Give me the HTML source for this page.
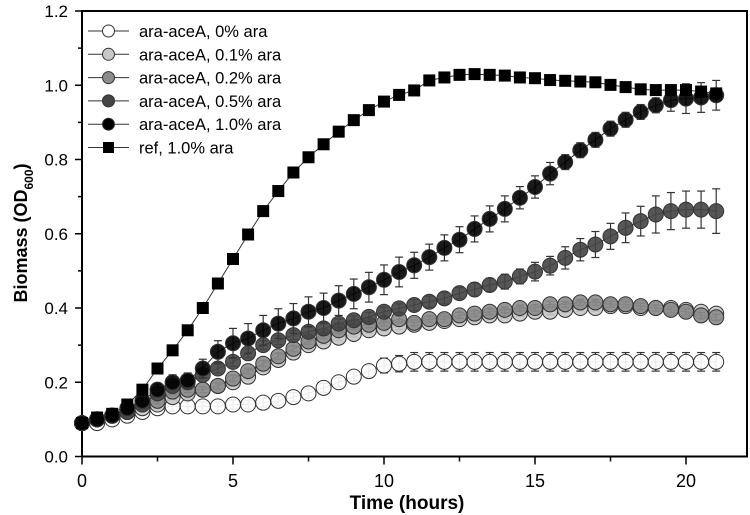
<!DOCTYPE html>
<html><head><meta charset="utf-8"><style>
html,body{margin:0;padding:0;background:#fff;}
svg{display:block;font-family:"Liberation Sans",Arial,sans-serif;}
</style></head><body>
<svg id="chart" width="750" height="515"></svg>
<script>
const times = [0,0.5,1,1.5,2,2.5,3,3.5,4,4.5,5,5.5,6,6.5,7,7.5,8,8.5,9,9.5,10,10.5,11,11.5,12,12.5,13,13.5,14,14.5,15,15.5,16,16.5,17,17.5,18,18.5,19,19.5,20,20.5,21];
const s0 = [0.09,0.09,0.10,0.11,0.12,0.13,0.135,0.135,0.135,0.135,0.14,0.14,0.145,0.15,0.16,0.17,0.185,0.20,0.215,0.23,0.245,0.25,0.255,0.255,0.255,0.255,0.255,0.255,0.255,0.255,0.255,0.255,0.255,0.255,0.255,0.255,0.255,0.255,0.255,0.255,0.255,0.255,0.255];
const s1 = [0.09,0.10,0.11,0.12,0.13,0.14,0.16,0.17,0.18,0.19,0.20,0.215,0.24,0.26,0.28,0.30,0.31,0.32,0.33,0.34,0.345,0.35,0.355,0.36,0.365,0.37,0.375,0.38,0.38,0.385,0.39,0.39,0.395,0.40,0.40,0.405,0.405,0.40,0.40,0.40,0.395,0.39,0.385];
const s2 = [0.09,0.10,0.11,0.12,0.14,0.15,0.175,0.18,0.18,0.19,0.21,0.23,0.25,0.27,0.29,0.31,0.325,0.34,0.35,0.355,0.36,0.37,0.36,0.37,0.37,0.38,0.385,0.39,0.395,0.40,0.40,0.41,0.41,0.415,0.415,0.41,0.41,0.405,0.40,0.395,0.39,0.38,0.375];
const s3 = [0.09,0.10,0.11,0.12,0.14,0.17,0.19,0.20,0.22,0.237,0.255,0.278,0.30,0.313,0.327,0.336,0.345,0.358,0.367,0.376,0.39,0.399,0.408,0.417,0.426,0.44,0.45,0.462,0.471,0.485,0.498,0.514,0.535,0.557,0.571,0.593,0.616,0.634,0.652,0.661,0.665,0.665,0.661];
const s4 = [0.09,0.10,0.11,0.13,0.15,0.18,0.20,0.205,0.237,0.282,0.305,0.318,0.34,0.358,0.372,0.39,0.40,0.42,0.438,0.456,0.476,0.497,0.515,0.537,0.562,0.584,0.613,0.64,0.667,0.697,0.726,0.762,0.793,0.825,0.853,0.883,0.907,0.928,0.946,0.96,0.964,0.967,0.973];
const sRef = [0.09,0.105,0.115,0.14,0.18,0.237,0.286,0.34,0.40,0.466,0.532,0.598,0.661,0.715,0.765,0.806,0.841,0.875,0.906,0.933,0.956,0.974,0.986,1.013,1.021,1.028,1.03,1.028,1.026,1.021,1.019,1.014,1.012,1.01,1.008,1.001,0.995,0.989,0.987,0.987,0.987,0.983,0.978];
const err0 = [0.005,0.005,0.005,0.01,0.01,0.01,0.012,0.012,0.012,0.012,0.012,0.012,0.012,0.012,0.012,0.012,0.012,0.012,0.012,0.015,0.02,0.022,0.025,0.025,0.025,0.025,0.025,0.025,0.025,0.025,0.025,0.025,0.025,0.025,0.025,0.025,0.025,0.025,0.025,0.025,0.025,0.025,0.025];
const err3 = [0.005,0.005,0.01,0.01,0.01,0.01,0.01,0.01,0.01,0.012,0.012,0.012,0.012,0.012,0.012,0.012,0.012,0.012,0.012,0.012,0.012,0.012,0.015,0.015,0.015,0.015,0.018,0.018,0.02,0.02,0.025,0.025,0.03,0.03,0.035,0.035,0.04,0.04,0.05,0.05,0.05,0.05,0.06];
const err4 = [0.005,0.01,0.01,0.01,0.01,0.015,0.02,0.02,0.025,0.03,0.04,0.04,0.04,0.04,0.04,0.04,0.04,0.04,0.04,0.04,0.04,0.04,0.035,0.035,0.035,0.035,0.035,0.035,0.035,0.03,0.03,0.03,0.02,0.02,0.02,0.02,0.02,0.02,0.02,0.03,0.04,0.04,0.04];
const xTicks = ["0","5","10","15","20"];
const yTicks = ["0.0","0.2","0.4","0.6","0.8","1.0","1.2"];

const NS="http://www.w3.org/2000/svg";
const svg=document.getElementById('chart');
const L=82,R=747,T=11,B=456.5;
const X=t=>L+t*30.2;
const Y=v=>B-v*(B-T)/1.2;
function el(tag,attrs,parent){const e=document.createElementNS(NS,tag);for(const k in attrs)e.setAttribute(k,attrs[k]);(parent||svg).appendChild(e);return e;}

const frame=el('rect',{x:L,y:T,width:R-L,height:B-T,fill:'none',stroke:'#000','stroke-width':2});


for(let i=0;i<=8;i++){const t=i*2.5;const x=X(t);const major=i%2===0;
 const tk=el('line',{x1:x,x2:x,y1:B,y2:B+(major?8:5),stroke:'#000','stroke-width':1.5});
 
 
 if(major){const lb=el('text',{x:x,y:487,'text-anchor':'middle','font-size':18});lb.textContent=xTicks[i/2];
 
 }}
for(let i=0;i<=12;i++){const v=i*0.1;const y=Y(v);const major=i%2===0;
 const tk=el('line',{x1:L,x2:L-(major?7:4),y1:y,y2:y,stroke:'#000','stroke-width':1.5});
 
 
 if(major){const lb=el('text',{x:L-14,y:y+6,'text-anchor':'end','font-size':17});lb.textContent=yTicks[i/2];
 
 }}
const xt=el('text',{x:407,y:509,'text-anchor':'middle','font-size':19,'font-weight':'bold'});xt.textContent='Time (hours)';


const yt=el('text',{transform:'translate(27,233) rotate(-90)','text-anchor':'middle','font-size':18,'font-weight':'bold'});
yt.innerHTML='Biomass (OD<tspan font-size="12" dy="6">600</tspan><tspan dy="-6">)</tspan>';



const series=[
 {d:s0,e:err0,fill:'#fff',name:'series-0pct',sq:false},
 {d:s1,e:null,fill:'#c8c8c8',name:'series-0-1pct',sq:false},
 {d:s2,e:null,fill:'#8c8c8c',name:'series-0-2pct',sq:false},
 {d:s3,e:err3,fill:'#444',name:'series-0-5pct',sq:false},
 {d:s4,e:err4,fill:'#000',name:'series-1-0pct',sq:false},
 {d:sRef,e:null,fill:'#000',name:'series-ref',sq:true}
];
series.forEach(s=>{
 const g=el('g',{});
 
 
 const pts=s.d.map((v,i)=>X(times[i])+','+Y(v)).join(' ');
 el('polyline',{points:pts,fill:'none',stroke:'#333','stroke-width':1},g);
 s.d.forEach((v,i)=>{
  const x=X(times[i]),y=Y(v);
  const e=s.e?s.e[i]:0.008;
  if(!s.sq){const top=Y(v+e),bot=Y(v-e);
   el('line',{x1:x,x2:x,y1:top,y2:bot,stroke:'#333','stroke-width':1.2},g);
   el('line',{x1:x-4,x2:x+4,y1:top,y2:top,stroke:'#333','stroke-width':1.2},g);
   el('line',{x1:x-4,x2:x+4,y1:bot,y2:bot,stroke:'#333','stroke-width':1.2},g);}
  let m;
  if(s.sq){m=el('rect',{x:x-6,y:y-6,width:12,height:12,fill:'#000'},g);}
  else{m=el('circle',{cx:x,cy:y,r:7.5,fill:s.fill,stroke:'#333','stroke-width':1,'fill-opacity':0.9},g);}
  
  
 });
});
const labels=['ara-aceA, 0% ara','ara-aceA, 0.1% ara','ara-aceA, 0.2% ara','ara-aceA, 0.5% ara','ara-aceA, 1.0% ara','ref, 1.0% ara'];
labels.forEach((t,i)=>{
 const y=31+i*23.3;const g=el('g',{});
 
 
 el('line',{x1:88,x2:129,y1:y,y2:y,stroke:'#333','stroke-width':1},g);
 if(series[i].sq)el('rect',{x:103,y:y-5.5,width:11,height:11,fill:'#000'},g);
 else el('circle',{cx:108.5,cy:y,r:6,fill:series[i].fill,stroke:'#333','stroke-width':1},g);
 const tx=el('text',{x:139,y:y+6,'font-size':16.5},g);tx.textContent=t;
});
</script>
</body></html>
